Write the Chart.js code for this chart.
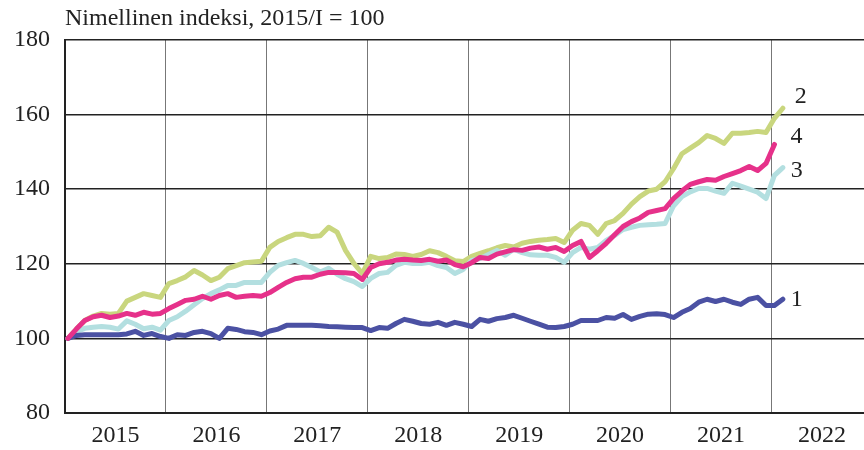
<!DOCTYPE html>
<html><head><meta charset="utf-8">
<script src="https://cdn.jsdelivr.net/npm/chart.js@4/dist/chart.umd.min.js"></script>
<style>html,body{margin:0;padding:0;background:#fff}#w{width:864px;height:450px}</style>
</head><body><div id="w"><canvas id="c"></canvas></div>
<script>
const title = "Nimellinen indeksi, 2015/I = 100";
const years = ["2015","2016","2017","2018","2019","2020","2021","2022"];
const seriesNames = ["1","2","3","4"];
// monthly index values, 2015/I = 100
const s1 = [100,100.8,101,101,101,101,101,101.2,101.9,100.8,101.3,100.5,
 100,101,100.8,101.6,101.9,101.3,100,102.7,102.4,101.8,101.6,101,
 102,102.5,103.5,103.5,103.5,103.5,103.4,103.2,103.1,103,102.9,102.9,
 102.1,102.9,102.7,104,105.1,104.6,104,103.8,104.3,103.5,104.3,103.8,
 103.2,105.1,104.6,105.3,105.6,106.2,105.4,104.6,103.8,103,102.9,103.2,
 103.8,104.8,104.8,104.8,105.6,105.4,106.4,105.1,105.9,106.5,106.6,106.4,
 105.6,107,108,109.7,110.5,109.9,110.5,109.7,109.1,110.5,111,108.8,
 108.8,110.5];
const s2 = [100,102.5,104.8,106,106.7,106.5,106.7,110,111,112,111.5,111,
 114.7,115.5,116.5,118.2,117,115.5,116.4,118.7,119.5,120.3,120.5,120.7,
 124.4,126,127,127.9,127.9,127.3,127.5,129.8,128.5,123.6,120.1,117.4,
 122,121.4,121.7,122.6,122.5,122,122.5,123.5,123,122,120.8,120.6,
 122,122.8,123.5,124.3,124.9,124.5,125.5,126,126.3,126.5,126.8,125.7,
 129,130.8,130.3,127.9,130.8,131.6,133.5,136,138,139.5,140,142,
 145.5,149.5,151,152.5,154.4,153.6,152.3,155,155,155.2,155.5,155.2,
 159,161.7];
const s3 = [100,101.8,102.7,103,103.2,103,102.5,104.7,103.8,102.6,103,102.2,
 104.8,105.8,107.3,109,110.7,112,113,114.2,114.2,115,115,115,
 117.7,119.6,120.3,120.9,120.1,119,117.8,118.8,117.2,116,115.2,113.9,
 116.1,117.4,117.7,119.6,120.4,120.1,120.1,120.4,119.5,119,117.4,118.5,
 120.9,121.4,122.5,123.6,122.3,123.9,123,122.4,122.3,122.3,121.7,120.4,
 123,124.4,123.9,124.4,126.3,127.6,129.2,129.8,130.3,130.5,130.6,130.8,
 135.5,138,139.3,140.2,140.2,139.5,138.9,141.6,140.8,140,139.2,137.5,
 143.7,145.8];
const s4 = [100,102.5,104.8,105.8,106.2,105.6,106,106.7,106.2,107,106.5,106.7,
 108,109.1,110.2,110.5,111.3,110.5,111.5,112,111,111.3,111.5,111.3,
 112.3,113.7,115,116,116.4,116.4,117.2,117.7,117.7,117.6,117.4,115.8,
 119,120,120.4,121,121.2,121,120.9,121.2,120.7,121,119.8,119.2,
 120.3,121.7,121.4,122.6,123.2,123.8,123.6,124.2,124.5,123.9,124.4,123.3,
 124.9,126,121.7,123.5,125.5,127.8,130,131.3,132.3,133.8,134.3,134.8,
 137.5,139.5,141.3,142,142.6,142.4,143.4,144.2,145,146.1,145,146.9,
 152];

const toPts = arr => arr.map((v,i)=>({x:i+0.35,y:v}));
const FONT = "'Liberation Serif', 'DejaVu Serif', serif";
const colors = ["#4b51a3","#c9d67e","#b3dfe0","#e6318a"];
const labelOff = [[14,0],[18,-12],[14,3],[22,-8]];

const labelPlugin = {
  id:'lbl',
  afterDatasetsDraw(chart){
    const ctx = chart.ctx;
    ctx.save();
    ctx.font = "24px " + FONT;
    ctx.fillStyle = "#222";
    ctx.textAlign = "center";
    ctx.textBaseline = "middle";
    chart.data.datasets.forEach((ds,di)=>{
      const meta = chart.getDatasetMeta(di);
      const p = meta.data[meta.data.length-1];
      ctx.fillText(ds.label, p.x + labelOff[di][0], p.y + labelOff[di][1]);
    });
    ctx.font = "24px " + FONT;
    ctx.textAlign = "left";
    ctx.textBaseline = "alphabetic";
    ctx.fillText(title, chart.chartArea.left, 25);
    ctx.restore();
  }
};

new Chart(document.getElementById('c'), {
  type:'line',
  data:{datasets:[
    {label:seriesNames[0], data:toPts(s1), borderColor:colors[0], order:2},
    {label:seriesNames[1], data:toPts(s2), borderColor:colors[1], order:4},
    {label:seriesNames[2], data:toPts(s3), borderColor:colors[2], order:3},
    {label:seriesNames[3], data:toPts(s4), borderColor:colors[3], order:1}
  ]},
  options:{
    responsive:true, maintainAspectRatio:false, animation:false,
    layout:{padding:{top:40,right:0,left:0,bottom:0}},
    datasets:{line:{borderWidth:5, pointRadius:0, tension:0, fill:false, borderJoinStyle:'round', borderCapStyle:'round'}},
    plugins:{legend:{display:false}, tooltip:{enabled:false}, title:{display:false}},
    scales:{
      x:{type:'linear', min:0, max:95,
        afterBuildTicks(s){ const t=[]; for(let v=0; v<=90; v+=6) t.push({value:v}); s.ticks=t; },
        afterFit(s){ s.height = 37; },
        ticks:{autoSkip:false, maxRotation:0, minRotation:0, padding:8, color:"#222",
          font:{family:FONT,size:24},
          callback:(v)=> (v%12===6 && (v-6)/12 < years.length) ? years[(v-6)/12] : ""},
        grid:{drawTicks:false, color:(c)=> (c.tick && c.tick.value%12===0) ? "#777" : "rgba(0,0,0,0)", lineWidth:1},
        border:{color:"#222", width:2}
      },
      y:{min:80, max:180,
        afterBuildTicks(s){ const t=[]; for(let v=80; v<=180; v+=20) t.push({value:v}); s.ticks=t; },
        afterFit(s){ s.width = 65; },
        ticks:{padding:15, color:"#222", font:{family:FONT,size:24}},
        grid:{drawTicks:false, color:"#222", lineWidth:1.5},
        border:{color:"#222", width:2}
      }
    }
  },
  plugins:[labelPlugin]
});
</script></body></html>
